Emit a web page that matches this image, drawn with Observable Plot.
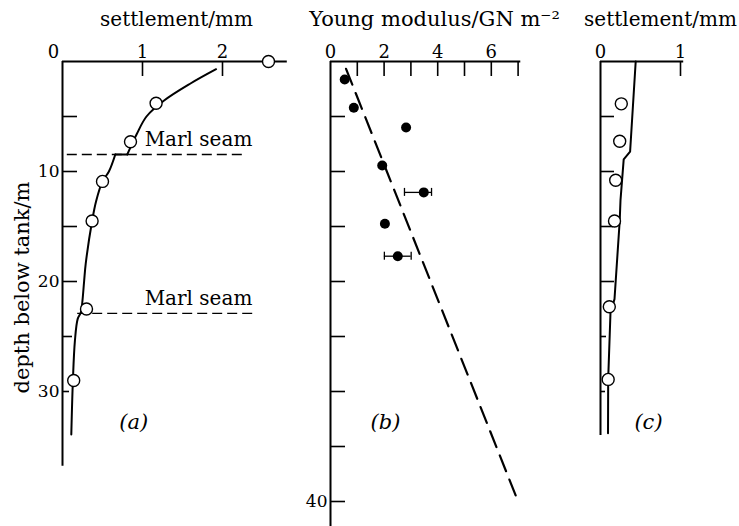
<!DOCTYPE html>
<html><head><meta charset="utf-8">
<script src="https://cdn.jsdelivr.net/npm/d3@7"></script>
<script src="https://cdn.jsdelivr.net/npm/@observablehq/plot@0.6"></script>
<style>
html,body{margin:0;padding:0;background:#fff;}
#wrap{position:relative;width:739px;height:526px;overflow:hidden;background:#fff;}
#wrap > svg{position:absolute;top:0;overflow:visible;}
</style></head><body><div id="wrap"></div>
<script>
// ---------- data ----------
// panel (a): observed settlement (hollow circles)
const aPointDepth  = [0, 3.8, 7.3, 10.9, 14.5, 22.5, 29.0];
const aPointSettle = [2.575, 1.17, 0.85, 0.50, 0.37, 0.30, 0.14];
// panel (a): computed settlement curve (segment 1, step at marl seam, segment 2)
const aCurveDepth   = [0.7, 2.0, 3.55, 5.0, 6.57, 8.45,  8.45, 8.45,  8.45, 10.0, 10.9, 12.7, 14.5, 18.4, 20.0, 22.0, 22.8, 23.4, 25.4, 29.0, 33.9];
const aCurveSettle  = [1.92, 1.6, 1.27, 1.05, 0.93, 0.81,  0.81, 0.66,  0.66, 0.58, 0.50, 0.42, 0.37, 0.29, 0.27, 0.246, 0.23, 0.19, 0.155, 0.13, 0.11];
const aCurveSegment = [1, 1, 1, 1, 1, 1,  2, 2,  3, 3, 3, 3, 3, 3, 3, 3, 3, 3, 3, 3, 3];
// marl seams
const seamDepth = [8.45, 22.9];
const seamFrom  = [0.06, 0.19];
const seamTo    = [2.29, 2.44];
const seamLabel = ["Marl seam", "Marl seam"];

// panel (b): Young modulus (filled dots)
const bDepth   = [1.64, 4.2, 6.0, 9.45, 11.9, 14.75, 17.7];
const bModulus = [0.53, 0.87, 2.82, 1.93, 3.48, 2.03, 2.51];
const bErrDepth = [11.9, 17.7];
const bErrLow   = [2.76, 2.01];
const bErrHigh  = [3.77, 3.01];
const bFitDepth   = [0.67, 40];
const bFitModulus = [0.58, 7.0];

// panel (c): settlement
const cPointDepth  = [3.85, 7.25, 10.8, 14.5, 22.3, 28.9];
const cPointSettle = [0.26, 0.24, 0.19, 0.175, 0.11, 0.096];
const cCurveDepth  = [0, 8.2, 8.9, 12.6, 14.5, 21.6, 22.8, 28.9, 33.8];
const cCurveSettle = [0.44, 0.37, 0.29, 0.25, 0.24, 0.175, 0.125, 0.096, 0.094];

// ticks and labels
const aXTicks = [1, 2];
const aXLabels = [0, 1, 2];
const aDepthTicks = [5, 10, 15, 20, 25, 30];
const aDepthLabels = [10, 20, 30];
const bXTicks = [1, 2, 3, 4, 5, 6, 7];
const bXLabels = [0, 2, 4, 6];
const bDepthTicks = [5, 10, 15, 20, 25, 30, 35, 40];
const bDepthLabels = [40];
const cXTicks = [1];
const cXLabels = [0, 1];
const cDepthTicks = [5, 10, 15, 20, 25, 30];

const titles = ["settlement/mm", "Young modulus/GN m\u207B\u00B2", "settlement/mm"];
const panelLabels = ["(a)", "(b)", "(c)"];
const yTitle = "depth below tank/m";

// ---------- layout ----------
const H = 526, TOP = 61, PX_PER_M = 11;
const yMax = (H - TOP) / PX_PER_M;
const FONT = "DejaVu Serif";
const zip = (keys, ...cols) => cols[0].map((_, i) => Object.fromEntries(keys.map((k, j) => [k, cols[j][i]])));

function panel(cfg) {
  const xMax = (cfg.width - cfg.marginLeft) / cfg.pxPerX;
  const tx = 15 / PX_PER_M;           // x-tick length in metres
  const ty = (L) => L / cfg.pxPerX;  // y-tick length in x units
  const zeroDx = cfg.zeroDx || 0;
  const xLabelOpts = {x: d => d, y: 0, text: d => String(d), dy: -9, fontSize: 18, fontFamily: FONT, lineAnchor: "middle"};
  const marks = [
    Plot.ruleY([0], {x1: 0, x2: cfg.xAxisEnd, strokeWidth: 2}),
    Plot.ruleX([0], {y1: 0, y2: cfg.yAxisEnd, strokeWidth: 2}),
    Plot.ruleX(cfg.xTicks, {x: d => d, y1: 0, y2: tx, strokeWidth: 1.6}),
    Plot.ruleY(cfg.depthTicks, {y: d => d, x1: 0, x2: (d, i) => ty(cfg.tickLen[i]), strokeWidth: 1.6}),
    Plot.text(cfg.xLabels.filter(d => d === 0), {...xLabelOpts, dx: zeroDx}),
    Plot.text(cfg.xLabels.filter(d => d !== 0), {...xLabelOpts, dx: 0}),
    Plot.text(cfg.depthLabels, {x: 0, y: d => d, text: d => String(d), dx: -3, textAnchor: "end",
      fontSize: 17, fontFamily: FONT, lineAnchor: "middle"}),
    Plot.text([cfg.title], {frameAnchor: "top", textAnchor: "middle", dx: cfg.titleDx, dy: -42, fontSize: cfg.titleSize, fontFamily: FONT, lineAnchor: "middle"}),
    Plot.text([cfg.label], {x: cfg.labelX, y: 32.8, fontSize: 21, fontFamily: FONT, fontStyle: "italic", lineAnchor: "middle"}),
    ...cfg.marks
  ];
  const p = Plot.plot({
    width: cfg.width, height: H,
    marginLeft: cfg.marginLeft, marginRight: 0, marginTop: TOP, marginBottom: 0,
    x: {domain: [0, xMax], axis: null},
    y: {domain: [0, yMax], range: [TOP, H], axis: null},
    style: {background: "transparent", fontFamily: FONT, color: "black"},
    marks
  });
  p.style.left = cfg.left + "px";
  return p;
}

const wrap = document.getElementById("wrap");

// panel (a)
const aPts = zip(["d", "s"], aPointDepth, aPointSettle);
const aCurve = zip(["d", "s", "g"], aCurveDepth, aCurveSettle, aCurveSegment);
const seams = zip(["d", "x1", "x2", "t"], seamDepth, seamFrom, seamTo, seamLabel);
wrap.appendChild(panel({
  left: 0, width: 300, marginLeft: 62, pxPerX: 80,
  xAxisEnd: 2.81, yAxisEnd: 36.8, zeroDx: -9,
  xTicks: aXTicks, xLabels: aXLabels, depthTicks: aDepthTicks, depthLabels: aDepthLabels,
  tickLen: [15, 15, 15, 15, 10, 7],
  title: titles[0], titleSize: 20, titleDx: -5, label: panelLabels[0], labelX: 0.89,
  marks: [
    Plot.ruleY(seams, {y: "d", x1: "x1", x2: "x2", strokeWidth: 1.4, strokeDasharray: "10,5"}),
    Plot.text(seams, {x: 1.70, y: "d", text: "t", dy: -15, fontSize: 20, fontFamily: FONT, lineAnchor: "middle"}),
    Plot.line(aCurve, {x: "s", y: "d", z: "g", curve: "catmull-rom", strokeWidth: 2}),
    Plot.dot(aPts, {x: "s", y: "d", r: 6, fill: "white", stroke: "black", strokeWidth: 1.4}),
    Plot.text([yTitle], {frameAnchor: "left", textAnchor: "middle", dx: -40, dy: -6.5, rotate: -90, fontSize: 21, fontFamily: FONT, lineAnchor: "middle"})
  ]
}));

// panel (b)
const bPts = zip(["d", "e"], bDepth, bModulus);
const bErr = zip(["d", "lo", "hi"], bErrDepth, bErrLow, bErrHigh);
const bCaps = bErr.flatMap(e => [{d: e.d, e: e.lo}, {d: e.d, e: e.hi}]);
const bFit = zip(["d", "e"], bFitDepth, bFitModulus);
const capHalf = 4 / PX_PER_M;
wrap.appendChild(panel({
  left: 290, width: 250, marginLeft: 40, pxPerX: 26.8,
  xAxisEnd: 7.1, yAxisEnd: yMax,
  xTicks: bXTicks, xLabels: bXLabels, depthTicks: bDepthTicks, depthLabels: bDepthLabels,
  tickLen: [15, 15, 15, 15, 15, 15, 15, 15],
  title: titles[1], titleSize: 21, titleDx: -1, label: panelLabels[1], labelX: 2.05,
  marks: [
    Plot.line(bFit, {x: "e", y: "d", strokeWidth: 2.2, strokeDasharray: "17,9"}),
    Plot.ruleY(bErr, {y: "d", x1: "lo", x2: "hi", strokeWidth: 1.3}),
    Plot.ruleX(bCaps, {x: "e", y1: d => d.d - capHalf, y2: d => d.d + capHalf, strokeWidth: 1.3}),
    Plot.dot(bPts, {x: "e", y: "d", r: 5, fill: "black"})
  ]
}));

// panel (c)
const cPts = zip(["d", "s"], cPointDepth, cPointSettle);
const cCurve = zip(["d", "s"], cCurveDepth, cCurveSettle);
wrap.appendChild(panel({
  left: 540, width: 199, marginLeft: 60, pxPerX: 80,
  xAxisEnd: 1.04, yAxisEnd: 34.0,
  xTicks: cXTicks, xLabels: cXLabels, depthTicks: cDepthTicks, depthLabels: [],
  tickLen: [14, 14, 13, 14, 6, 5],
  title: titles[2], titleSize: 20, titleDx: -9.5, label: panelLabels[2], labelX: 0.6,
  marks: [
    Plot.line(cCurve, {x: "s", y: "d", strokeWidth: 2}),
    Plot.dot(cPts, {x: "s", y: "d", r: 6, fill: "white", stroke: "black", strokeWidth: 1.4})
  ]
}));
</script></body></html>
